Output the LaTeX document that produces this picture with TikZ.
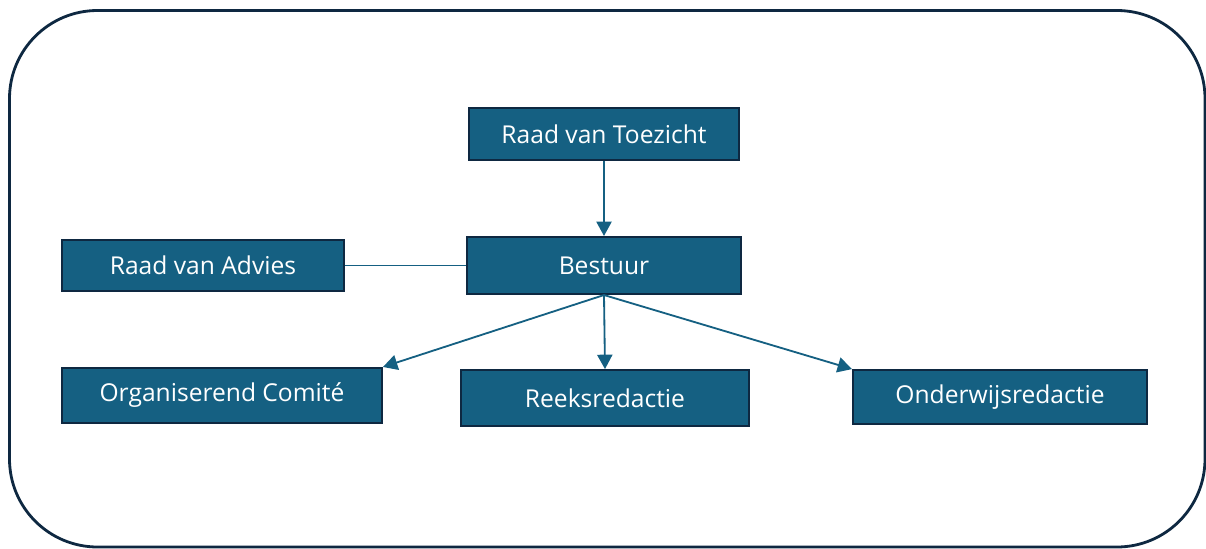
\documentclass[tikz,border=0pt]{standalone}
\usepackage{fontspec}
\setmainfont{Open Sans}
\usetikzlibrary{arrows.meta,positioning}
\definecolor{boxfill}{HTML}{156082}
\definecolor{boxline}{HTML}{0E2841}
\tikzset{
    orgbox/.style={draw=boxline, fill=boxfill, line width=1.3pt, text=white,
        font=\fontsize{17.5}{20}\selectfont, inner sep=0pt},
    orglink/.style={draw=boxfill, line width=1.3pt},
    orgarrow/.style={orglink, -{Triangle[length=0.36cm, width=0.38cm]}}
}
\begin{document}
\begin{tikzpicture}[x=0.025cm, y=-0.025cm]
    \useasboundingbox (0,0) rectangle (1206,548);
    % outer frame
    \draw[boxline, line width=2pt, rounded corners=2.2cm] (9.5,10.5) rectangle (1205,547);
    % boxes
    \node[orgbox, minimum width=6.73cm, minimum height=1.3cm] (toezicht) at (604,134) {Raad van Toezicht};
    \node[orgbox, minimum width=6.85cm, minimum height=1.43cm] (bestuur) at (604,265.5) {Bestuur};
    \node[orgbox, minimum width=7.05cm, minimum height=1.28cm] (advies) at (203,265.5) {Raad van Advies};
    \node[orgbox, minimum width=8cm, minimum height=1.38cm] (comite) at (222,395.5) {Organiserend Comité};
    \node[orgbox, minimum width=7.18cm, minimum height=1.4cm] (reeks) at (605,398) {Reeksredactie};
    \node[orgbox, minimum width=7.35cm, minimum height=1.35cm] (onderwijs) at (1000,397) {Onderwijsredactie};
    % links
    \draw[orgarrow] (toezicht.south) -- (bestuur.north);
    \draw[orglink] (advies.east) -- (bestuur.west);
    \draw[orgarrow] (bestuur.south) -- (comite.north east);
    \draw[orgarrow] (bestuur.south) -- (reeks.north);
    \draw[orgarrow] (bestuur.south) -- (onderwijs.north west);
\end{tikzpicture}
\end{document}
